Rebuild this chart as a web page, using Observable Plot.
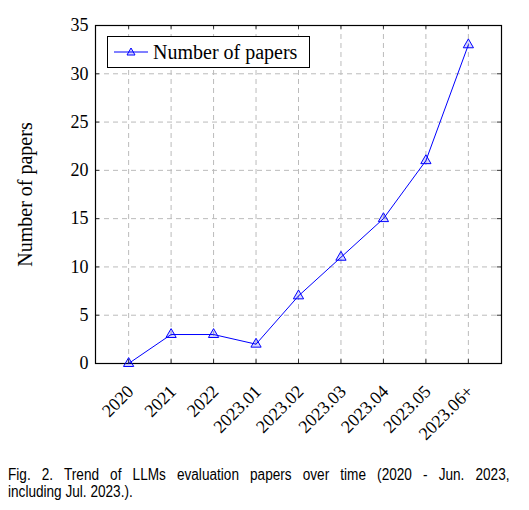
<!DOCTYPE html>
<html lang="en">
<head>
<meta charset="UTF-8">
<script src="https://cdn.jsdelivr.net/npm/d3@7"></script>
<script src="https://cdn.jsdelivr.net/npm/@observablehq/plot@0.6"></script>
<style>
  body { margin: 0; background: #fff; }
  #wrap { position: relative; width: 529px; }
  #legend {
    position: absolute; left: 107px; top: 36px; width: 201px; height: 30px;
    border: 1px solid #000; background: #fff;
    font-family: "Liberation Serif", serif; font-size: 20px;
    display: flex; align-items: center;
  }
  #legend svg { margin-left: 6px; margin-right: 5px; }
  #caption {
    width: 590px; margin: 16px 0 0 8px;
    transform: scaleX(0.85); transform-origin: left top;
    font-family: "Liberation Sans", Arial, sans-serif; font-size: 16px;
    line-height: 17px; color: #000;
  }
  #caption .l1 { display: block; text-align: justify; text-align-last: justify; }
</style>
</head>
<body>
<div id="wrap">
  <div id="plot"></div>
  <div id="legend">
    <svg width="34" height="12"><line x1="0" y1="6" x2="34" y2="6" stroke="blue" stroke-width="1"/><path d="M17,2 L21,9 L13,9 Z" fill="rgba(0,0,255,0.15)" stroke="blue" stroke-width="1"/></svg>
    <span>Number of papers</span>
  </div>
</div>
<div id="caption"><span class="l1">Fig. 2. Trend of LLMs evaluation papers over time (2020 - Jun. 2023,</span>including Jul. 2023.).</div>
<script>
  // data
  const periods = ["2020", "2021", "2022", "2023.01", "2023.02", "2023.03", "2023.04", "2023.05", "2023.06+"];
  const papers = [0, 3, 3, 2, 7, 11, 15, 21, 33];
  const yTicks = [0, 5, 10, 15, 20, 25, 30, 35];

  const idx = periods.map((_, i) => i);
  const rows = periods.map((p, i) => ({i, period: p, n: papers[i]}));

  const serif = "Liberation Serif, serif";

  const chart = Plot.plot({
    width: 529,
    height: 450,
    marginLeft: 95,
    marginRight: 28,
    marginTop: 25,
    marginBottom: 87,
    style: {fontFamily: serif, fontSize: "18px", color: "#000", background: "#fff"},
    x: {type: "linear", domain: [-0.78, 8.78]},
    y: {domain: [0, 35]},
    marks: [
      // dashed grid
      Plot.ruleX(idx, {x: d => d, stroke: "#bbb", strokeDasharray: "5,4", strokeWidth: 1}),
      Plot.ruleY(yTicks, {y: d => d, stroke: "#bbb", strokeDasharray: "5,4", strokeWidth: 1}),
      // inward tick marks on all four sides
      Plot.ruleX(idx, {x: d => d, y1: 0, y2: 0.4, stroke: "#333"}),
      Plot.ruleX(idx, {x: d => d, y1: 34.6, y2: 35, stroke: "#333"}),
      Plot.ruleY(yTicks, {y: d => d, x1: -0.78, x2: -0.68, stroke: "#333"}),
      Plot.ruleY(yTicks, {y: d => d, x1: 8.68, x2: 8.78, stroke: "#333"}),
      Plot.frame({stroke: "#000", strokeWidth: 1.2}),
      Plot.axisX(idx, {
        tickSize: 0, tickRotate: -45, tickPadding: 17, dx: 2, dy: 8,
        tickFormat: i => periods[i], label: null, fontSize: 18
      }),
      Plot.axisY(yTicks, {
        tickSize: 0, tickPadding: 7, fontSize: 18,
        label: null
      }),
      Plot.axisY({
        ticks: [], tickSize: 0, fontSize: 20,
        label: "Number of papers", labelAnchor: "center", labelArrow: "none", labelOffset: 78
      }),
      Plot.line(rows, {x: "i", y: "n", stroke: "blue", strokeWidth: 1}),
      Plot.dot(rows, {x: "i", y: "n", symbol: "triangle", r: 3.8, stroke: "blue", strokeWidth: 1, fill: "rgba(0,0,255,0.15)"})
    ]
  });
  document.querySelector("#plot").append(chart);
</script>
</body>
</html>
